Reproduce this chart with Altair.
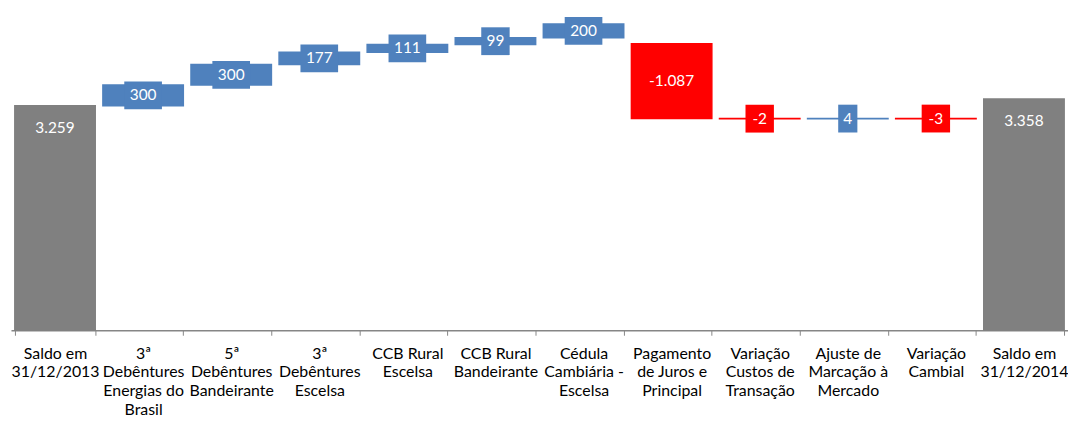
import altair as alt
import pandas as pd

categories = [
    "Saldo em|31/12/2013",
    "3ª|Debêntures|Energias do|Brasil",
    "5ª|Debêntures|Bandeirante",
    "3ª|Debêntures|Escelsa",
    "CCB Rural|Escelsa",
    "CCB Rural|Bandeirante",
    "Cédula|Cambiária -|Escelsa",
    "Pagamento|de Juros e|Principal",
    "Variação|Custos de|Transação",
    "Ajuste de|Marcação à|Mercado",
    "Variação|Cambial",
    "Saldo em|31/12/2014",
]
values = [3259, 300, 300, 177, 111, 99, 200, -1087, -2, 4, -3, 3358]
bar_start = [0, 3259, 3559, 3859, 4036, 4147, 4246, 4160, 3073, 3071, 3075, 0]
bar_end = [3259, 3559, 3859, 4036, 4147, 4246, 4446, 3073, 3071, 3075, 3072, 3358]
kinds = ["total", "up", "up", "up", "up", "up", "up", "down", "down", "up", "down", "total"]

df = pd.DataFrame({
    "category": categories,
    "value": values,
    "start": bar_start,
    "end": bar_end,
    "kind": kinds,
})

color_scale = alt.Scale(domain=["total", "up", "down"], range=["#808080", "#4F81BD", "#FF0000"])

x = alt.X(
    "category:N",
    sort=categories,
    scale=alt.Scale(paddingInner=0.087, paddingOuter=0.0435),
    axis=alt.Axis(
        title=None,
        labelExpr="split(datum.label, '|')",
        labelAngle=0,
        labelFont="Lato",
        labelFontSize=16,
        labelColor="#000000",
        labelLineHeight=19,
        labelPadding=10,
        labelLimit=200,
        domainColor="#868686",
        domainWidth=1.5,
        tickColor="#868686",
        tickSize=5,
        tickWidth=1,
        tickBand="extent",
        grid=False,
    ),
)
yscale = alt.Scale(domain=[0, 4500], nice=False, zero=True)

base = alt.Chart(df).transform_calculate(
    label_y="datum.kind == 'total' ? datum.end - 325 : (datum.start + datum.end) / 2",
    txt="format(datum.value, ',')",
).transform_calculate(
    box_w="10 + 9.3 * length(datum.txt)",
)

bars = base.mark_bar(strokeWidth=1.5).encode(
    x=x,
    y=alt.Y("start:Q", scale=yscale, axis=None),
    y2="end:Q",
    color=alt.Color("kind:N", scale=color_scale, legend=None),
    stroke=alt.Stroke("kind:N", scale=color_scale, legend=None),
)

boxes = base.transform_filter("datum.kind != 'total'").mark_tick(thickness=28, opacity=1).encode(
    x=x,
    y=alt.Y("label_y:Q", scale=yscale, axis=None),
    size=alt.Size("box_w:Q", scale=None),
    color=alt.Color("kind:N", scale=color_scale, legend=None),
)

texts = base.mark_text(color="white", font="Lato", fontSize=15.5, baseline="middle", align="center").encode(
    x=x,
    y=alt.Y("label_y:Q", scale=yscale, axis=None),
    text="txt:N",
)

chart = alt.layer(bars, boxes, texts).properties(
    width=1064,
    height=312,
    padding={"left": 3, "top": 11, "right": 0, "bottom": 96},
    autosize=alt.AutoSizeParams(type="none"),
).configure_view(stroke=None)

chart.save(
    "out.html",
    embed_options={
        "renderer": "svg",
        "actions": False,
        "formatLocale": {
            "decimal": ",",
            "thousands": ".",
            "grouping": [3],
            "currency": ["R$", ""],
            "minus": "-",
        },
    },
)
